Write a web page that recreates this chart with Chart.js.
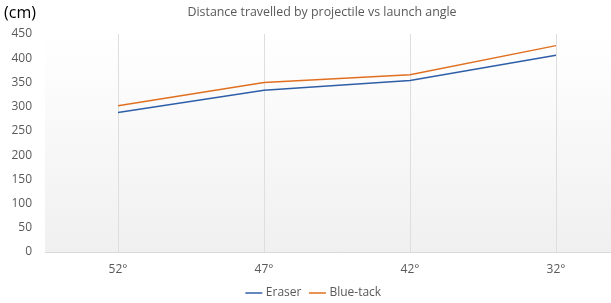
<!DOCTYPE html>
<html>
<head>
<meta charset="utf-8">
<script src="https://cdn.jsdelivr.net/npm/chart.js@4"></script>
<style>
  html, body { margin: 0; padding: 0; background: #fff; overflow: hidden; }
  #wrap { width: 611px; height: 303px; overflow: hidden; }
  #box { width: 640px; height: 303px; }
</style>
</head>
<body>
<div id="wrap"><div id="box"><canvas id="distanceChart"></canvas></div></div>
<script>
// Launch angles on the x axis
const angleLabels = ['52°', '47°', '42°', '32°'];

// Distance travelled (cm)
const eraserDistances = [288, 334, 354, 406];
const blueTackDistances = [302, 350, 366, 426];

// Y axis range
const yMin = 0;
const yMax = 450;
const yStep = 50;

// Gradient behind the plot area + title and unit text
const decorPlugin = {
    id: 'decor',
    beforeDraw(chart) {
        const { ctx, chartArea } = chart;
        const g = ctx.createLinearGradient(0, chartArea.top, 0, chartArea.bottom);
        g.addColorStop(0, '#ffffff');
        g.addColorStop(1, '#f0f0f0');
        ctx.save();
        ctx.fillStyle = g;
        ctx.fillRect(chartArea.left, chartArea.top, chartArea.right - chartArea.left, chartArea.bottom - chartArea.top);
        ctx.restore();
    },
    afterDraw(chart) {
        const { ctx } = chart;
        ctx.save();
        ctx.fillStyle = '#000000';
        ctx.font = '16px "Open Sans"';
        ctx.textBaseline = 'middle';
        ctx.textAlign = 'left';
        ctx.fillText('(cm)', 4, 13);
        ctx.fillStyle = '#595959';
        ctx.font = '12.4px "Open Sans"';
        ctx.textAlign = 'center';
        ctx.fillText('Distance travelled by projectile vs launch angle', 322, 12);
        ctx.restore();
    }
};

Chart.defaults.font.family = '"Open Sans"';
Chart.defaults.font.size = 12;
Chart.defaults.color = '#595959';

function initializeChart() {
    const ctx = document.getElementById('distanceChart');
    new Chart(ctx, {
        type: 'line',
        data: {
            labels: angleLabels,
            datasets: [
                {
                    label: 'Eraser',
                    data: eraserDistances,
                    borderColor: '#2f5ea8',
                    backgroundColor: '#2f5ea8',
                    borderWidth: 1.5,
                    pointRadius: 0,
                    tension: 0
                },
                {
                    label: 'Blue-tack',
                    data: blueTackDistances,
                    borderColor: '#e0701f',
                    backgroundColor: '#e0701f',
                    borderWidth: 1.5,
                    pointRadius: 0,
                    tension: 0
                }
            ]
        },
        options: {
            responsive: true,
            maintainAspectRatio: false,
            animation: false,
            layout: {
                padding: { top: 34, right: 11, left: 0, bottom: -6 }
            },
            plugins: {
                legend: {
                    position: 'bottom',
                    labels: {
                        usePointStyle: true,
                        pointStyle: 'line',
                        boxWidth: 15,
                        padding: 10,
                        color: '#595959',
                        font: { size: 12 }
                    }
                },
                title: { display: false },
                tooltip: { enabled: false }
            },
            scales: {
                x: {
                    offset: true,
                    afterFit(scale) { scale.height = 25; },
                    grid: {
                        display: true,
                        color: '#dedede',
                        drawTicks: false
                    },
                    border: { display: true, color: '#d9d9d9' },
                    ticks: { padding: 10, color: '#595959' }
                },
                y: {
                    min: yMin,
                    max: yMax,
                    afterFit(scale) { scale.width = 45; },
                    grid: { display: false, drawTicks: false },
                    border: { display: false },
                    ticks: {
                        stepSize: yStep,
                        padding: 13,
                        color: '#595959'
                    }
                }
            }
        },
        plugins: [decorPlugin]
    });
}

document.addEventListener('DOMContentLoaded', initializeChart);
</script>
</body>
</html>
